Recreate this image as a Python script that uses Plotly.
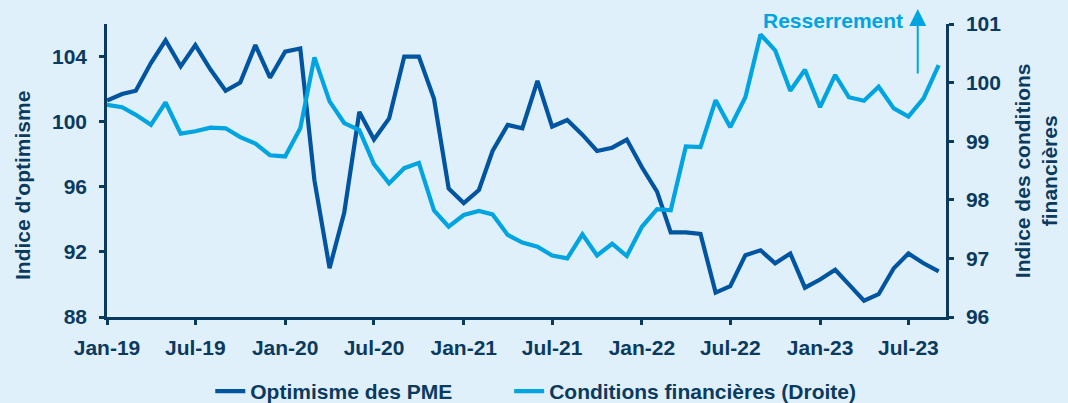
import pandas as pd
import plotly.graph_objects as go

# ---- data (monthly, Jan-2019 .. Sep-2023) ----
months = pd.date_range("2019-01-01", periods=57, freq="MS")

optimisme_pme = [
    101.3, 101.7, 101.9, 103.6, 105.0, 103.4, 104.7, 103.2, 101.9, 102.4, 104.7, 102.7,
    104.3, 104.5, 96.4, 91.0, 94.4, 100.6, 98.9, 100.2, 104.0, 104.0, 101.4, 95.9,
    95.0, 95.8, 98.2, 99.8, 99.6, 102.5, 99.7, 100.1, 99.2, 98.2, 98.4, 98.9,
    97.2, 95.7, 93.2, 93.2, 93.1, 89.5, 89.9, 91.8, 92.1, 91.3, 91.9, 89.8,
    90.3, 90.9, 90.0, 89.0, 89.4, 91.0, 91.9, 91.3, 90.8,
]

conditions_fin = [
    99.62, 99.58, 99.45, 99.28, 99.66, 99.13, 99.17, 99.23, 99.22, 99.07, 98.96, 98.76,
    98.74, 99.22, 100.43, 99.68, 99.31, 99.19, 98.61, 98.28, 98.54, 98.63, 97.82, 97.54,
    97.74, 97.81, 97.75, 97.40, 97.27, 97.20, 97.05, 97.00, 97.41, 97.05, 97.25, 97.04,
    97.54, 97.84, 97.82, 98.91, 98.90, 99.70, 99.24, 99.75, 100.82, 100.55, 99.86, 100.22,
    99.58, 100.13, 99.75, 99.69, 99.93, 99.56, 99.42, 99.73, 100.30,
]

left_ticks = [88, 92, 96, 100, 104]
right_ticks = [96, 97, 98, 99, 100, 101]

# ---- styles ----
BG = "#dff0fb"
NAVY = "#0b3a5f"
DARK = "#0054a0"
LIGHT = "#00a4e0"
FONT = "Liberation Sans, Arial, sans-serif"
FS = 21

fig = go.Figure()
fig.add_trace(go.Scatter(
    x=months, y=optimisme_pme, name="Optimisme des PME", mode="lines",
    line=dict(color=DARK, width=4.2), yaxis="y", legend="legend",
))
fig.add_trace(go.Scatter(
    x=months, y=conditions_fin, name="Conditions financières (Droite)", mode="lines",
    line=dict(color=LIGHT, width=4.2), yaxis="y2", legend="legend2",
))

axis_common = dict(
    showline=True, linecolor=NAVY, linewidth=2.5,
    ticks="outside", ticklen=5, tickwidth=2.5, tickcolor=NAVY,
    showgrid=False, zeroline=False, automargin=False,
    tickfont=dict(family=FONT, size=FS, color=NAVY, weight="bold"),
)

legend_common = dict(
    orientation="h", xanchor="left", y=-0.254, yanchor="middle",
    font=dict(family=FONT, size=FS, color=NAVY, weight="bold"),
    bgcolor="rgba(0,0,0,0)",
)

fig.update_layout(
    width=1068, height=403, autosize=False,
    paper_bgcolor=BG, plot_bgcolor=BG,
    margin=dict(l=107, r=122, t=24, b=86, autoexpand=False),
    font=dict(family=FONT, color=NAVY),
    xaxis=dict(
        type="date", range=["2019-01-01", "2023-09-16"],
        tick0="2019-01-01", dtick="M6", tickformat="%b-%y",
        ticklabelstandoff=5,
        **axis_common,
    ),
    yaxis=dict(range=[88, 106], tickvals=left_ticks, ticklabelstandoff=8, **axis_common),
    yaxis2=dict(range=[96, 101], tickvals=right_ticks, overlaying="y", side="right",
                ticklabelstandoff=8, **axis_common),
    showlegend=True,
    legend=dict(x=0.1231, **legend_common),
    legend2=dict(x=0.4793, **legend_common),
    annotations=[
        dict(text="Indice d'optimisme", xref="paper", yref="paper",
             x=-0.1015, y=0.45, xanchor="center", yanchor="middle",
             textangle=-90, showarrow=False,
             font=dict(family=FONT, size=FS, color=NAVY, weight="bold")),
        dict(text="Indice des conditions<br>financières", xref="paper", yref="paper",
             x=1.1072, y=0.501, xanchor="center", yanchor="middle",
             textangle=-90, showarrow=False,
             font=dict(family=FONT, size=FS, color=NAVY, weight="bold")),
        dict(text="Resserrement", xref="paper", yref="paper",
             x=0.9512, y=1.0103, xanchor="right", yanchor="middle", showarrow=False,
             font=dict(family=FONT, size=FS, color=LIGHT, weight="bold")),
        dict(text="", xref="paper", yref="paper", x=0.9663, y=1.051,
             ax=0, ay=66, showarrow=True, arrowhead=2, arrowsize=1.7,
             arrowwidth=2, arrowcolor=LIGHT, standoff=0, startstandoff=0),
    ],
)

fig.write_html(
    "out.html",
    config={"displayModeBar": False, "responsive": False},
    post_script=(
        "document.documentElement.style.margin='0';"
        "document.body.style.margin='0';"
        "document.body.style.overflow='hidden';"
        "document.body.style.background='" + BG + "';"
    ),
)
